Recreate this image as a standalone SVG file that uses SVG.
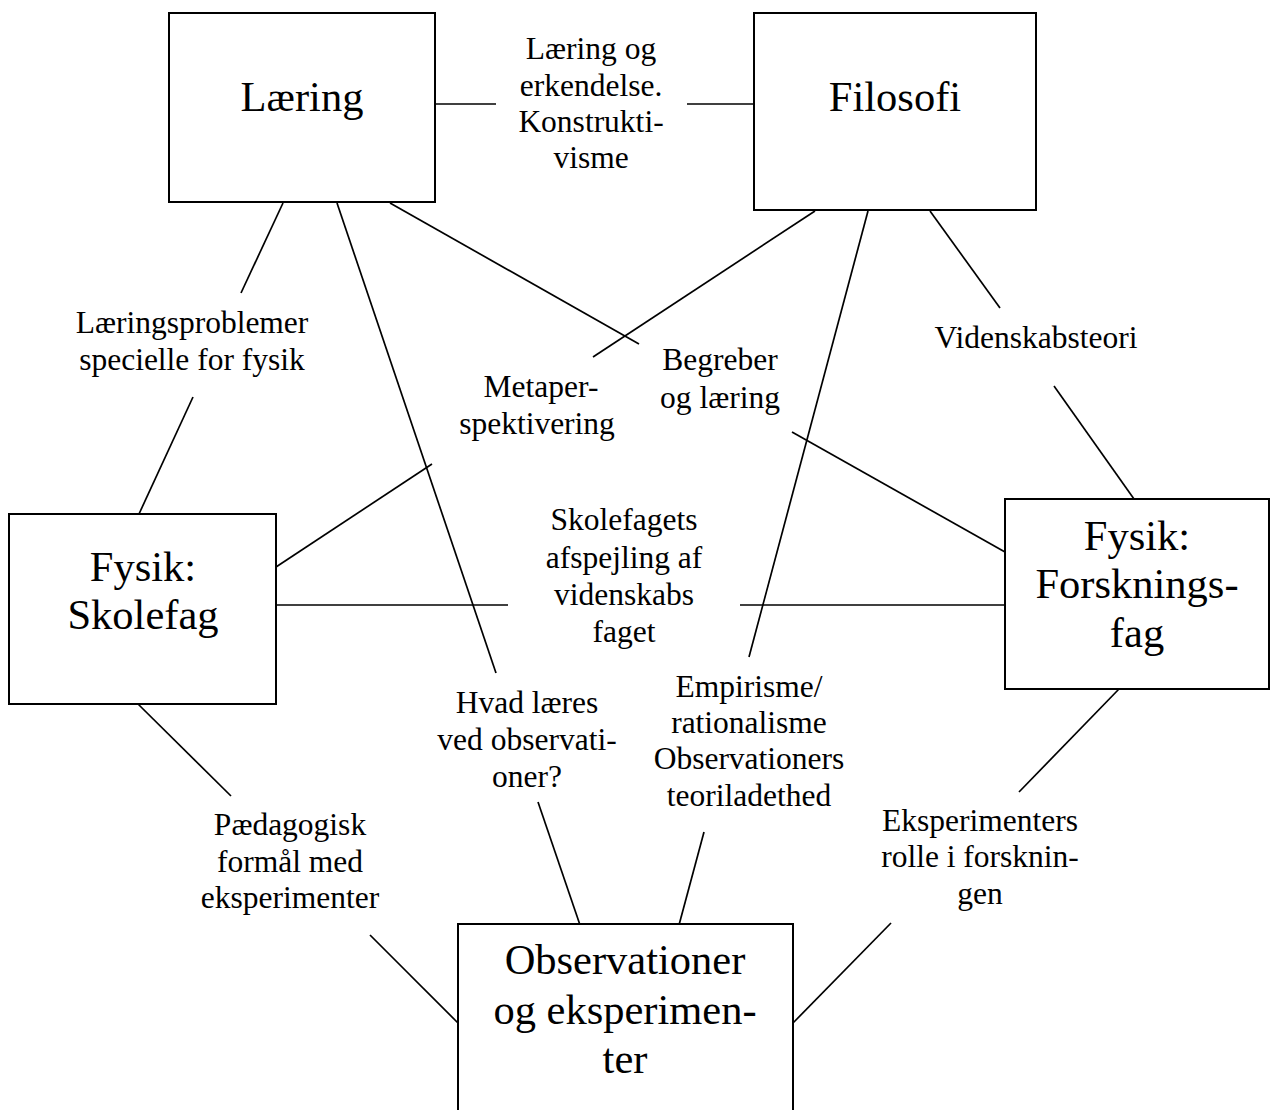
<svg xmlns="http://www.w3.org/2000/svg" width="1270" height="1110" viewBox="0 0 1270 1110">
  <style>
    .box { fill: #ffffff; stroke: #000000; stroke-width: 2; }
    .link { stroke: #000000; stroke-width: 1.7; fill: none; }
    .title { font-family: "Liberation Serif", "Times New Roman", serif; font-size: 42.5px; fill: #000000; text-anchor: middle; }
    .lbl { font-family: "Liberation Serif", "Times New Roman", serif; font-size: 31.5px; fill: #000000; text-anchor: middle; }
  </style>
  <rect width="1270" height="1110" fill="#ffffff"/>

  <!-- connectors, each split around its label -->
  <g id="connectors">
    <!-- Læring – Filosofi -->
    <line class="link" x1="435" y1="104" x2="496" y2="104"/>
    <line class="link" x1="687" y1="104" x2="754" y2="104"/>
    <!-- Læring – Skolefag -->
    <line class="link" x1="283" y1="203" x2="241" y2="293"/>
    <line class="link" x1="193" y1="397" x2="139" y2="514"/>
    <!-- Læring – Observationer -->
    <line class="link" x1="337" y1="203" x2="496" y2="673"/>
    <line class="link" x1="538" y1="802" x2="580" y2="925"/>
    <!-- Læring – Forskningsfag -->
    <line class="link" x1="390" y1="203" x2="639" y2="344"/>
    <line class="link" x1="792" y1="432" x2="1005" y2="552"/>
    <!-- Filosofi – Skolefag -->
    <line class="link" x1="815" y1="211" x2="593" y2="357"/>
    <line class="link" x1="432" y1="464" x2="276" y2="567"/>
    <!-- Filosofi – Observationer -->
    <line class="link" x1="868" y1="211" x2="749" y2="657"/>
    <line class="link" x1="704" y1="832" x2="679" y2="925"/>
    <!-- Filosofi – Forskningsfag -->
    <line class="link" x1="930" y1="211" x2="1000" y2="308"/>
    <line class="link" x1="1054" y1="386" x2="1134" y2="499"/>
    <!-- Skolefag – Forskningsfag -->
    <line class="link" x1="276" y1="605" x2="508" y2="605"/>
    <line class="link" x1="740" y1="605" x2="1005" y2="605"/>
    <!-- Skolefag – Observationer -->
    <line class="link" x1="138" y1="704" x2="231" y2="796"/>
    <line class="link" x1="370" y1="935" x2="458" y2="1023"/>
    <!-- Forskningsfag – Observationer -->
    <line class="link" x1="1119" y1="689" x2="1019" y2="792"/>
    <line class="link" x1="891" y1="923" x2="793" y2="1023"/>
  </g>

  <!-- connector labels -->
  <g id="labels">
    <text class="lbl" x="591"><tspan x="591" y="59">Læring og</tspan><tspan x="591" y="96">erkendelse.</tspan><tspan x="591" y="132">Konstrukti-</tspan><tspan x="591" y="168">visme</tspan></text>
    <text class="lbl"><tspan x="192" y="333">Læringsproblemer</tspan><tspan x="192" y="370">specielle for fysik</tspan></text>
    <text class="lbl"><tspan x="1036" y="348">Videnskabsteori</tspan></text>
    <text class="lbl"><tspan x="541" y="397">Metaper-</tspan><tspan x="537" y="434">spektivering</tspan></text>
    <text class="lbl"><tspan x="720" y="370">Begreber</tspan><tspan x="720" y="408">og læring</tspan></text>
    <text class="lbl"><tspan x="624" y="530">Skolefagets</tspan><tspan x="624" y="568">afspejling af</tspan><tspan x="624" y="605">videnskabs</tspan><tspan x="624" y="642">faget</tspan></text>
    <text class="lbl"><tspan x="527" y="713">Hvad læres</tspan><tspan x="527" y="750">ved observati-</tspan><tspan x="527" y="787">oner?</tspan></text>
    <text class="lbl"><tspan x="749" y="697">Empirisme/</tspan><tspan x="749" y="733">rationalisme</tspan><tspan x="749" y="769">Observationers</tspan><tspan x="749" y="806">teoriladethed</tspan></text>
    <text class="lbl"><tspan x="290" y="835">Pædagogisk</tspan><tspan x="290" y="872">formål med</tspan><tspan x="290" y="908">eksperimenter</tspan></text>
    <text class="lbl"><tspan x="980" y="831">Eksperimenters</tspan><tspan x="980" y="867">rolle i forsknin-</tspan><tspan x="980" y="904">gen</tspan></text>
  </g>

  <!-- nodes -->
  <g id="node-laering">
    <rect class="box" x="169" y="13" width="266" height="189"/>
    <text class="title" x="302" y="111">Læring</text>
  </g>
  <g id="node-filosofi">
    <rect class="box" x="754" y="13" width="282" height="197"/>
    <text class="title" x="895" y="111">Filosofi</text>
  </g>
  <g id="node-skolefag">
    <rect class="box" x="9" y="514" width="267" height="190"/>
    <text class="title"><tspan x="143" y="581">Fysik:</tspan><tspan x="143" y="629">Skolefag</tspan></text>
  </g>
  <g id="node-forskningsfag">
    <rect class="box" x="1005" y="499" width="264" height="190"/>
    <text class="title"><tspan x="1137" y="550">Fysik:</tspan><tspan x="1137" y="598">Forsknings-</tspan><tspan x="1137" y="647">fag</tspan></text>
  </g>
  <g id="node-observationer">
    <rect class="box" x="458" y="924" width="335" height="200"/>
    <text class="title"><tspan x="625" y="974">Observationer</tspan><tspan x="625" y="1024">og eksperimen-</tspan><tspan x="625" y="1073">ter</tspan></text>
  </g>
</svg>
